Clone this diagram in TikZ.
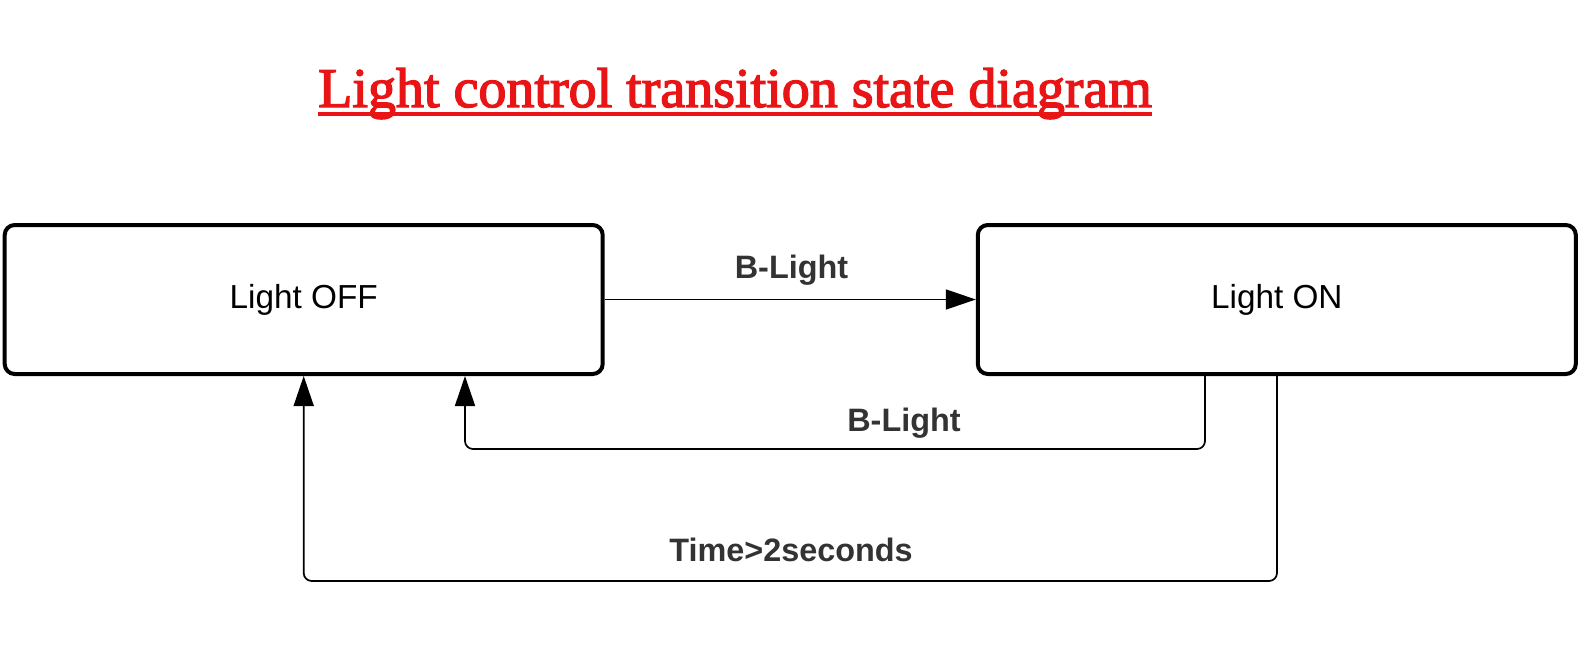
\documentclass[tikz,border=0pt]{standalone}
\usepackage{fontspec}
\newfontfamily\lsans{Liberation Sans}
\newfontfamily\lserif[FakeBold=2.5]{Liberation Serif}
\usetikzlibrary{arrows.meta}
\definecolor{titlered}{RGB}{232,20,22}
\definecolor{lblgray}{RGB}{51,51,51}
\begin{document}
\begin{tikzpicture}[x=1pt,y=-1pt,
  statebox/.style={draw=black, line width=4pt, rounded corners=10pt, minimum width=598pt, minimum height=149pt, inner sep=0pt, font=\lsans\fontsize{33.3}{40}\selectfont},
  conn/.style={draw=black, line width=1.7pt, rounded corners=8pt, -{Triangle[length=30pt,width=20pt]}},
  lbl/.style={font=\lsans\bfseries\fontsize{32.4}{40}\selectfont, text=lblgray, inner sep=0pt, anchor=base}]
\useasboundingbox (0,0) rectangle (1579,667);
\node[anchor=base, inner sep=0pt, text=titlered, font=\lserif\fontsize{56}{64}\selectfont] (title) at (735,107) {Light control transition state diagram};
\draw[titlered, line width=3.5pt] ([yshift=-7pt]title.base west) -- ([yshift=-7pt]title.base east);
\node[statebox] (off) at (303.7,299.5) {Light OFF};
\node[statebox] (on) at (1276.8,299.5) {Light ON};
\coordinate (a1) at (1205,449);
\coordinate (a2) at (465,449);
\coordinate (b1) at (1277,581);
\coordinate (b2) at (303.7,581);
\draw[conn] (off.east) -- (on.west);
\draw[conn] (on.south -| a1) -- (a1) -- (a2) -- (off.south -| a2);
\draw[conn] (on.south -| b1) -- (b1) -- (b2) -- (off.south -| b2);
\node[lbl] (l1) at (791.5,278) {B-Light};
\node[lbl] (l2) at (904,431) {B-Light};
\node[lbl] (l3) at (791,561) {Time>2seconds};
\end{tikzpicture}
\end{document}
